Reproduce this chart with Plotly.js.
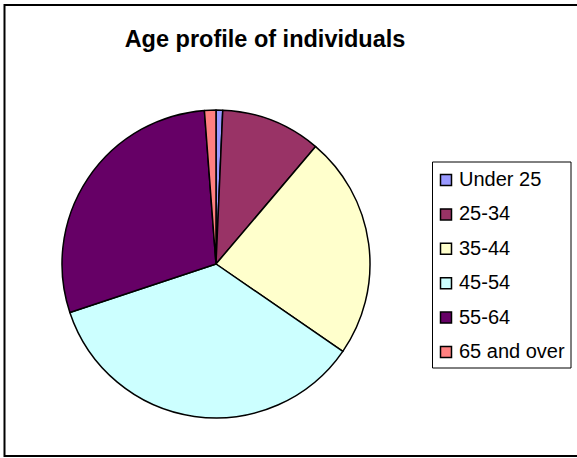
<!DOCTYPE html>
<html>
<head>
<meta charset="utf-8">
<script src="https://cdn.plot.ly/plotly-3.0.1.min.js"></script>
<style>html,body{margin:0;padding:0;background:#fff;}#chart{width:577px;height:458px;}</style>
</head>
<body>
<div id="chart"></div>
<script>
var categories = ["Under 25", "25-34", "35-44", "45-54", "55-64", "65 and over"];
var shares = [0.7, 10.5, 23.4, 35.3, 28.9, 1.2];
var sliceColors = ["#9999FF", "#993366", "#FFFFCC", "#CCFFFF", "#660066", "#FF8080"];
var chartTitle = "Age profile of individuals";

var W = 577, H = 458;
function px(x) { return x / W; }
function py(y) { return 1 - y / H; }

var cx = 216, cy = 264, r = 154;

var trace = {
  type: "pie",
  labels: categories,
  values: shares,
  sort: false,
  direction: "clockwise",
  rotation: 0,
  textinfo: "none",
  hoverinfo: "label+percent",
  showlegend: false,
  marker: { colors: sliceColors, line: { color: "#000000", width: 1.5 } },
  domain: { x: [px(cx - r), px(cx + r)], y: [py(cy + r), py(cy - r)] }
};

var shapes = [
  { type: "rect", xref: "paper", yref: "paper", x0: px(4.5), x1: px(590), y0: py(5), y1: py(456),
    line: { color: "#000000", width: 2 }, fillcolor: "rgba(0,0,0,0)", layer: "below" },
  { type: "rect", xref: "paper", yref: "paper", x0: px(432.5), x1: px(571), y0: py(162), y1: py(368),
    line: { color: "#000000", width: 1 }, fillcolor: "rgba(0,0,0,0)" }
];
var annotations = [];
var legTop = 180, legStep = 34.4;
categories.forEach(function (c, i) {
  var yc = legTop + i * legStep;
  shapes.push({ type: "rect", xref: "paper", yref: "paper",
    x0: px(440.5), x1: px(451.5), y0: py(yc - 5.5), y1: py(yc + 5.5),
    line: { color: "#000000", width: 1.5 }, fillcolor: sliceColors[i] });
  annotations.push({ xref: "paper", yref: "paper", x: px(457), y: py(yc - 1), xanchor: "left", yanchor: "middle",
    text: c, showarrow: false, font: { family: "Liberation Sans, Arial, sans-serif", size: 20, color: "#000000" } });
});

var layout = {
  width: W, height: H,
  margin: { l: 0, r: 0, t: 0, b: 0 },
  paper_bgcolor: "#ffffff",
  showlegend: false,
  title: { text: chartTitle, x: px(265), xanchor: "center", y: py(39), yanchor: "middle",
    font: { family: "Liberation Sans, Arial, sans-serif", size: 23.5, weight: "bold", color: "#000000" } },
  shapes: shapes,
  annotations: annotations
};

Plotly.newPlot("chart", [trace], layout, { displayModeBar: false, staticPlot: true });
</script>
</body>
</html>
